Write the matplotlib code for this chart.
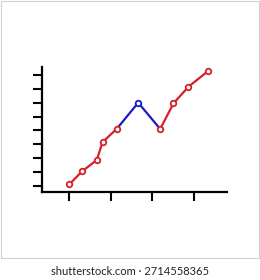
import matplotlib.pyplot as plt
from matplotlib.patches import Rectangle

# values (x ticks at 1..4, y ticks at 1..9)
xs = [1.0, 1.31, 1.66, 1.80, 2.14, 2.66, 3.19, 3.51, 3.87, 4.35]
ys = [1.1, 2.05, 2.85, 4.15, 5.1, 7.0, 5.1, 6.95, 8.15, 9.3]
blue_from, blue_to = 4, 6   # segment drawn in blue (indices)
x_ticks = [1, 2, 3, 4]
y_ticks = [1, 2, 3, 4, 5, 6, 7, 8, 9]

red = "#d81f26"
blue = "#1a1ac8"

fig = plt.figure(figsize=(2.6, 2.8), dpi=100)
fig.patches.append(Rectangle((0.002, 0.077), 0.994, 0.920, transform=fig.transFigure,
                             fill=False, edgecolor="#d0d0d0", linewidth=0.8))

ax = fig.add_axes([0.1615, 0.3143, 0.7115, 0.4464])
ax.plot(xs[:blue_from + 1], ys[:blue_from + 1], color=red, lw=1.6, zorder=2)
ax.plot(xs[blue_to:], ys[blue_to:], color=red, lw=1.6, zorder=2)
ax.plot(xs[blue_from:blue_to + 1], ys[blue_from:blue_to + 1], color=blue, lw=1.6, zorder=2)

mcol = [blue if i == 5 else red for i in range(len(xs))]
for x, y, c in zip(xs, ys, mcol):
    ax.plot(x, y, "o", ms=4, mfc="white", mec=c, mew=1.3, zorder=3)

ax.set_xlim(0.34, 4.80)
ax.set_ylim(0.545, 9.58)
ax.set_xticks(x_ticks)
ax.set_yticks(y_ticks)
ax.set_xticklabels([])
ax.set_yticklabels([])
ax.tick_params(direction="out", length=6.5, width=1.5, color="black")
for s in ["top", "right"]:
    ax.spines[s].set_visible(False)
for s in ["left", "bottom"]:
    ax.spines[s].set_linewidth(1.6)
ax.patch.set_alpha(0)

fig.text(0.5, 0.032, "shutterstock.com \u00b7 2714558365", ha="center", va="center",
         fontsize=8, family="Lato", color="#222222")

fig.savefig("out.png", dpi=100)
